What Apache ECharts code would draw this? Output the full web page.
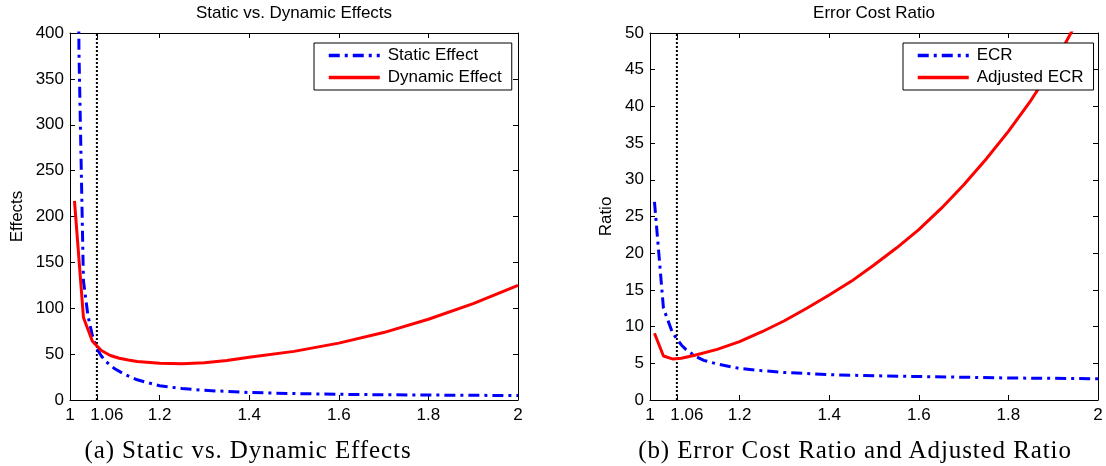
<!DOCTYPE html>
<html>
<head>
<meta charset="utf-8">
<script src="https://cdn.jsdelivr.net/npm/echarts@6/dist/echarts.min.js"></script>
<style>
  html, body { margin: 0; padding: 0; background: #fff; }
  #wrap { position: relative; width: 1106px; height: 466px; }
  #chart { width: 1106px; height: 466px; }
  .cap {
    position: absolute; top: 434px; width: 520px; margin-left: -260px;
    text-align: center; font-family: 'Liberation Serif', serif;
    font-size: 25px; letter-spacing: 0.9px; color: #000; line-height: 32px;
  }
</style>
</head>
<body>
<div id="wrap">
  <div id="chart"></div>
  <div class="cap" style="left: 248px">(a) Static vs. Dynamic Effects</div>
  <div class="cap" style="left: 855px">(b) Error Cost Ratio and Adjusted Ratio</div>
</div>
<script>
// tick labels
const xTicks = [1, 1.06, 1.2, 1.4, 1.6, 1.8, 2];
const cutoff = 1.06;

// (a) static vs dynamic effects
const staticX = [1.01, 1.02, 1.03, 1.04, 1.05, 1.06, 1.07, 1.08, 1.1, 1.12, 1.15, 1.2, 1.25, 1.3, 1.4, 1.5, 1.6, 1.7, 1.8, 1.9, 2.0];
const staticY = [1100, 380, 130, 92, 70, 56, 48, 42, 34, 28.5, 22, 15.5, 12.5, 10.5, 8.2, 7, 6.2, 5.7, 5.4, 5.1, 4.9];
const dynamicX = [1.01, 1.03, 1.05, 1.07, 1.09, 1.11, 1.13, 1.15, 1.2, 1.25, 1.3, 1.35, 1.4, 1.5, 1.6, 1.7, 1.8, 1.9, 2.0];
const dynamicY = [217, 90, 64, 54, 48.5, 45.5, 43.5, 42, 40, 39.5, 40.5, 43, 46.5, 53, 62, 73.5, 88, 105, 125];

// (b) error cost ratio
const ecrX = [1.01, 1.03, 1.05, 1.06, 1.07, 1.08, 1.1, 1.12, 1.15, 1.2, 1.25, 1.3, 1.4, 1.5, 1.6, 1.7, 1.8, 1.9, 2.0];
const ecrY = [27, 12.5, 9.2, 8.3, 7.5, 6.9, 6.0, 5.4, 4.9, 4.3, 4.0, 3.75, 3.45, 3.3, 3.2, 3.1, 3.0, 2.95, 2.9];
const adjX = [1.01, 1.03, 1.05, 1.07, 1.1, 1.15, 1.2, 1.25, 1.3, 1.35, 1.4, 1.45, 1.5, 1.55, 1.6, 1.65, 1.7, 1.75, 1.8, 1.85, 1.9, 1.95, 2.0];
const adjY = [9.1, 6.0, 5.6, 5.7, 6.1, 6.9, 7.95, 9.3, 10.8, 12.5, 14.3, 16.2, 18.4, 20.7, 23.2, 26.1, 29.3, 32.8, 36.6, 40.8, 45.5, 51.2, 57];

const font = "'Liberation Sans', Arial, sans-serif";
const zip = (xs, ys) => xs.map((x, i) => [x, ys[i]]);

function xAxis(grid, pos) {
  const bottom = pos === 'bottom';
  return {
    type: 'value', gridIndex: grid, position: pos, min: 1, max: 2,
    axisLine: { show: true, onZero: false, lineStyle: { color: '#000', width: 1 } },
    axisTick: { show: true, inside: true, length: 5, customValues: xTicks, lineStyle: { color: '#000' } },
    axisLabel: {
      show: bottom, customValues: xTicks, color: '#000', fontSize: 17, fontFamily: font, margin: 7,
      formatter: v => v === cutoff ? '{s|1.06}' : String(v),
      rich: { s: { padding: [0, 0, 0, 20], color: '#000', fontSize: 17, fontFamily: font } }
    },
    splitLine: { show: false }
  };
}

function yAxis(grid, pos, max, step, name, gap) {
  const left = pos === 'left';
  return {
    type: 'value', gridIndex: grid, position: pos, min: 0, max: max, interval: step,
    name: left ? name : '', nameLocation: 'middle', nameGap: gap,
    nameTextStyle: { color: '#000', fontSize: 17, fontFamily: font },
    axisLine: { show: true, onZero: false, lineStyle: { color: '#000', width: 1 } },
    axisTick: { show: true, inside: true, length: 5, lineStyle: { color: '#000' } },
    axisLabel: { show: left, color: '#000', fontSize: 17, fontFamily: font, margin: 6 },
    splitLine: { show: false }
  };
}

function legend(names, left) {
  return {
    data: names, orient: 'vertical', left: left, top: 43,
    padding: [4, 10, 4, 13], itemGap: 5, itemWidth: 51, itemHeight: 14,
    borderColor: '#000', borderWidth: 1, backgroundColor: '#fff',
    itemStyle: { opacity: 0 },   // hide the circle, keep the line
    lineStyle: { width: 3.5 },
    textStyle: { color: '#000', fontSize: 17, fontFamily: font, lineHeight: 17, padding: [0, 0, 0, 3] }
  };
}

const blue = { color: '#0000ff', width: 3, type: [11, 5, 3, 5] };
const red = { color: '#ff0000', width: 3, type: 'solid' };
const dotted = { color: '#000', width: 2, type: [2, 2] };

const chart = echarts.init(document.getElementById('chart'));
chart.setOption({
  animation: false,
  backgroundColor: '#fff',
  title: [
    { text: 'Static vs. Dynamic Effects', left: 294, top: 5, padding: 0, textAlign: 'center',
      textStyle: { color: '#000', fontSize: 17, fontWeight: 'normal', fontFamily: font } },
    { text: 'Error Cost Ratio', left: 874, top: 5, padding: 0, textAlign: 'center',
      textStyle: { color: '#000', fontSize: 17, fontWeight: 'normal', fontFamily: font } }
  ],
  legend: [
    legend(['Static Effect', 'Dynamic Effect'], 314),
    legend(['ECR', 'Adjusted ECR'], 903)
  ],
  grid: [
    { left: 70, top: 33, width: 448, height: 367 },
    { left: 650, top: 33, width: 448, height: 367 }
  ],
  xAxis: [xAxis(0, 'bottom'), xAxis(0, 'top'), xAxis(1, 'bottom'), xAxis(1, 'top')],
  yAxis: [
    yAxis(0, 'left', 400, 50, 'Effects', 44), yAxis(0, 'right', 400, 50),
    yAxis(1, 'left', 50, 5, 'Ratio', 35), yAxis(1, 'right', 50, 5)
  ],
  series: [
    { name: 'cutoff-a', type: 'line', xAxisIndex: 0, yAxisIndex: 0, symbol: 'none', silent: true,
      lineStyle: dotted, data: [[cutoff, 0], [cutoff, 400]] },
    { name: 'Static Effect', type: 'line', xAxisIndex: 0, yAxisIndex: 0, symbol: 'none',
      color: '#0000ff', lineStyle: blue, data: zip(staticX, staticY) },
    { name: 'Dynamic Effect', type: 'line', xAxisIndex: 0, yAxisIndex: 0, symbol: 'none',
      color: '#ff0000', lineStyle: red, data: zip(dynamicX, dynamicY) },
    { name: 'cutoff-b', type: 'line', xAxisIndex: 2, yAxisIndex: 2, symbol: 'none', silent: true,
      lineStyle: dotted, data: [[cutoff, 0], [cutoff, 50]] },
    { name: 'ECR', type: 'line', xAxisIndex: 2, yAxisIndex: 2, symbol: 'none',
      color: '#0000ff', lineStyle: blue, data: zip(ecrX, ecrY) },
    { name: 'Adjusted ECR', type: 'line', xAxisIndex: 2, yAxisIndex: 2, symbol: 'none',
      color: '#ff0000', lineStyle: red, data: zip(adjX, adjY) }
  ]
});
</script>
</body>
</html>
